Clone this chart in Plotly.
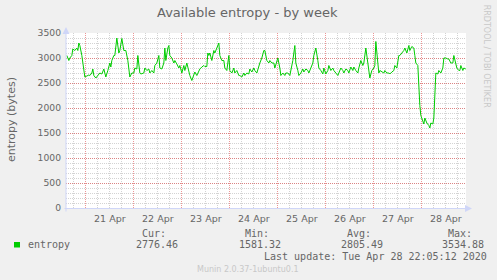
import pandas as pd
import plotly.graph_objects as go

# ---- data (hours relative to 2020-04-21 00:00, available entropy in bytes) ----
hours_part1 = [-9.5, -8.5, -8, -7, -6.5, -5.5, -4.5, -4, -3.5, -3, -2, -1, -0.5, 0.5, 1.5, 2, 3, 3.5, 4, 5,
               6, 7, 8, 9, 9.5, 10, 11, 12, 12.5, 13, 14, 14.5, 15.5, 16.5, 17, 18, 19, 20, 21, 21.5,
               22, 23, 24, 24.5, 25.5, 26, 27, 27.5, 29, 29.5, 30.5, 31.5, 32, 33, 34, 34.5, 35.5, 36.5, 37, 38,
               39, 39.5, 40, 41, 41.5, 42, 43, 44, 44.5, 45.5, 46.5, 47, 48, 49, 49.5, 50.5, 51.5, 52, 53, 54,
               54.5, 55.5, 56.5, 57, 58, 59, 59.5, 60.5, 61, 61.5, 62, 63, 64, 64.5, 65.5, 66.5, 67, 68, 69, 69.5,
               70.5, 71.5, 72, 73, 74, 74.5, 75.5, 76.5]
entropy_part1 = [3050, 2950, 3000, 3050, 3180, 3150, 3200, 3150, 3300, 3250, 3050, 2800, 2620, 2640, 2660, 2650, 2700, 2780, 2650, 2600,
                 2640, 2700, 2680, 2780, 2700, 2620, 2750, 2900, 2820, 2950, 3050, 3050, 3400, 3100, 3150, 3390, 3150, 3150, 2950, 2800,
                 2620, 2700, 2700, 2800, 2780, 3050, 2700, 2680, 2700, 2800, 2750, 2780, 2700, 2750, 2700, 2850, 2900, 3050, 2800, 2780,
                 2900, 3200, 2950, 3200, 3250, 3050, 3000, 2900, 2950, 2880, 2800, 2850, 2700, 2850, 2750, 2900, 2700, 2650, 2550, 2650,
                 2720, 2650, 2750, 2780, 2820, 2850, 2830, 2830, 3100, 3050, 3100, 2950, 3150, 3100, 3200, 3300, 3050, 2950, 2950, 2800,
                 2750, 3050, 2750, 2700, 2800, 2700, 2750, 2650]
hours_part2 = [77, 78, 79, 79.5, 80.5, 81.5, 82, 83, 84, 84.5, 85.5, 86.5, 87, 88, 89, 89.5, 90.5, 91.5, 92, 93,
               94, 94.5, 95.5, 96, 97, 97.5, 98.5, 99.5, 100, 101, 102, 102.5, 103.5, 104.5, 105, 106, 106.5, 107.5, 108.5, 109,
               110, 111, 111.5, 112.5, 113.5, 114, 115, 116, 116.5, 117.5, 118.5, 119, 120, 121, 121.5, 122.5, 123.5, 124, 125, 126,
               126.5, 127.5, 128.5, 129, 130, 131, 131.5, 132.5, 133.5, 134, 135, 136, 136.5, 137.5, 138.5, 139, 140, 141, 141.5, 142,
               143, 144, 144.5, 145, 146, 146.5, 147, 148, 149, 149.5, 150.5, 151.5, 152, 153, 154, 154.5, 155.5, 156.5, 157, 158,
               159, 159.5, 160.5, 161.5, 162, 163, 164, 164.5, 165, 166, 166.5, 167, 167.5, 168.5, 169, 169.5, 170.5, 171.5, 172, 172.5,
               173.5, 174, 174.5, 175, 176, 176.5, 177.5, 178.5, 179, 180, 181, 181.5, 182.5, 183.5, 184, 184.5, 185.5, 186.5, 187, 187.5,
               188.5, 189, 190]
entropy_part2 = [2650, 2620, 2700, 2650, 2700, 2680, 2780, 2720, 2800, 2750, 2700, 2850, 2900, 3000, 3150, 3150, 2950, 2900, 2950, 2900,
                 2900, 2800, 2950, 3000, 2800, 2650, 2700, 2650, 2700, 2700, 2650, 2750, 2950, 3250, 2900, 2750, 2650, 2700, 2780, 2720,
                 2780, 2750, 2700, 2800, 2900, 3050, 3200, 2950, 2800, 2750, 2680, 2800, 2680, 2750, 2850, 2750, 2800, 2750, 2700, 2650,
                 2700, 2800, 2750, 2700, 2780, 2750, 2700, 2820, 2750, 2820, 2750, 2700, 2800, 2950, 2850, 2900, 3200, 2900, 2800, 2600,
                 2750, 2800, 2850, 3330, 2900, 2700, 2750, 2720, 2700, 2750, 2700, 2700, 2680, 2720, 2750, 2850, 2800, 3050, 3050, 3100,
                 3150, 3200, 3100, 3250, 3150, 3230, 3200, 3050, 2900, 2850, 2400, 2050, 1850, 1750, 1680, 1800, 1700, 1650, 1600, 1700,
                 1680, 1800, 2300, 2700, 2680, 2750, 2700, 2800, 3000, 3000, 2980, 2980, 2900, 2900, 3050, 2950, 2800, 2750, 2750, 2850,
                 2750, 2800, 2780]

base_time = "2020-04-21 00:00"
range_start = "2020-04-20 14:05"
range_end = "2020-04-28 22:05"
day_label_times = ["2020-04-21 12:00", "2020-04-22 12:00", "2020-04-23 12:00", "2020-04-24 12:00",
                   "2020-04-25 12:00", "2020-04-26 12:00", "2020-04-27 12:00", "2020-04-28 12:00"]
day_labels = ["21 Apr", "22 Apr", "23 Apr", "24 Apr", "25 Apr", "26 Apr", "27 Apr", "28 Apr"]
y_ticks = [0, 500, 1000, 1500, 2000, 2500, 3000, 3500]

series_name = "entropy"
stat_labels = ["Cur:", "Min:", "Avg:", "Max:"]
stat_values = ["2776.46", "1581.32", "2805.49", "3534.88"]
title_text = "Available entropy - by week"
y_title = "entropy (bytes)"
last_update = "Last update: Tue Apr 28 22:05:12 2020"
watermark = "Munin 2.0.37-1ubuntu0.1"
side_text = "RRDTOOL / TOBI OETIKER"

hours = hours_part1 + hours_part2
entropy = entropy_part1 + entropy_part2
assert len(hours) == len(entropy)
times = pd.Timestamp(base_time) + pd.to_timedelta(hours, unit="h")

# ---- layout geometry (pixels) ----
W, H = 497, 280
L, R, T, B = 66, 466, 33, 208
PW, PH = R - L, B - T


def px(x):
    return (x - L) / PW


def py(y):
    return (B - y) / PH


FONT = "#666666"
SANS = "DejaVu Sans"
MONO = "DejaVu Sans Mono"
AXIS_COL = "#CFD6F8"
GRID = "rgba(150,150,150,0.42)"
MGRID = "rgba(225,80,80,0.6)"
GREEN = "#00CC00"

fig = go.Figure()
fig.add_trace(go.Scatter(x=times, y=entropy, mode="lines", line=dict(color=GREEN, width=1),
                         hoverinfo="skip", showlegend=False))
fig.add_trace(go.Scatter(x=[range_start, range_end], y=[0, 0], mode="lines", xaxis="x2",
                         line=dict(width=0), opacity=0, hoverinfo="skip", showlegend=False))

fig.update_layout(
    width=W, height=H,
    margin=dict(l=L, r=W - R, t=T, b=H - B, pad=0),
    paper_bgcolor="#F0F0F0", plot_bgcolor="#FFFFFF",
    showlegend=False,
    xaxis=dict(type="date", range=[range_start, range_end], tick0="2020-04-21", dtick=86400000,
               showticklabels=False, ticks="", showgrid=True, gridcolor=MGRID, griddash="1px,1px",
               gridwidth=1, zeroline=False, showline=False,
               minor=dict(tick0="2020-04-21", dtick=21600000, showgrid=True, gridcolor=GRID,
                          griddash="1px,1px", gridwidth=1)),
    xaxis2=dict(type="date", range=[range_start, range_end], overlaying="x", anchor="y", side="bottom",
                tickmode="array", tickvals=day_label_times, ticktext=day_labels, showgrid=False,
                zeroline=False, showline=False, ticks="", ticklabelstandoff=3,
                tickfont=dict(family=SANS, size=9.5, color=FONT)),
    yaxis=dict(range=[0, 3500], tickmode="array", tickvals=y_ticks, tickformat="d",
               showgrid=True, gridcolor=MGRID, griddash="1px,1px", gridwidth=1, zeroline=False,
               showline=False, ticks="", ticklabelstandoff=4,
               tickfont=dict(family=SANS, size=9.2, color=FONT),
               minor=dict(dtick=100, showgrid=True, gridcolor=GRID, griddash="1px,1px", gridwidth=1)),
)

ann = []
# axes with arrows
ann.append(dict(x=px(66), y=py(27), xref="paper", yref="paper", ax=0, ay=186, axref="pixel", ayref="pixel",
                text="", showarrow=True, arrowhead=2, arrowsize=1.4, arrowwidth=1, arrowcolor=AXIS_COL, standoff=0))
ann.append(dict(x=px(472), y=py(208.5), xref="paper", yref="paper", ax=-409, ay=0, axref="pixel", ayref="pixel",
                text="", showarrow=True, arrowhead=2, arrowsize=1.4, arrowwidth=1, arrowcolor=AXIS_COL, standoff=0))
# title
ann.append(dict(x=px(247.5), y=py(13), xref="paper", yref="paper", text=title_text, showarrow=False,
                xanchor="center", yanchor="middle", font=dict(family=SANS, size=13, color=FONT)))
# y title
ann.append(dict(x=px(11), y=py(119), xref="paper", yref="paper", text=y_title, showarrow=False, textangle=-90,
                xanchor="center", yanchor="middle", font=dict(family=SANS, size=11, color=FONT)))
# side watermark
ann.append(dict(x=px(487.3), y=py(56), xref="paper", yref="paper", text=side_text, showarrow=False, textangle=90,
                xanchor="center", yanchor="middle", font=dict(family=SANS, size=8, color="#C8C8C8")))
# legend
ann.append(dict(x=px(26), y=py(244.7), xref="paper", yref="paper", text=series_name, showarrow=False,
                xanchor="left", yanchor="middle", font=dict(family=MONO, size=10, color=FONT)))
label_x = [140, 243.3, 344.7, 446.3]
value_x = [134, 236.6, 338.5, 440.3]
for lbl, val, lx, vx in zip(stat_labels, stat_values, label_x, value_x):
    ann.append(dict(x=px(lx), y=py(233), xref="paper", yref="paper", text=lbl, showarrow=False,
                    xanchor="left", yanchor="middle", font=dict(family=MONO, size=10, color=FONT)))
    ann.append(dict(x=px(vx), y=py(244.7), xref="paper", yref="paper", text=val, showarrow=False,
                    xanchor="left", yanchor="middle", font=dict(family=MONO, size=10, color=FONT)))
ann.append(dict(x=px(262), y=py(256.3), xref="paper", yref="paper", text=last_update, showarrow=False,
                xanchor="left", yanchor="middle", font=dict(family=MONO, size=10, color=FONT)))
ann.append(dict(x=px(248), y=py(269.3), xref="paper", yref="paper", text=watermark, showarrow=False,
                xanchor="center", yanchor="middle", font=dict(family=SANS, size=8, color="#C8C8C8")))
fig.update_layout(annotations=ann)

# legend colour swatch
fig.add_shape(type="rect", xref="paper", yref="paper", x0=px(14), x1=px(20), y0=py(247.5), y1=py(242),
              fillcolor=GREEN, line=dict(width=0))

fig.write_html("out.html")
